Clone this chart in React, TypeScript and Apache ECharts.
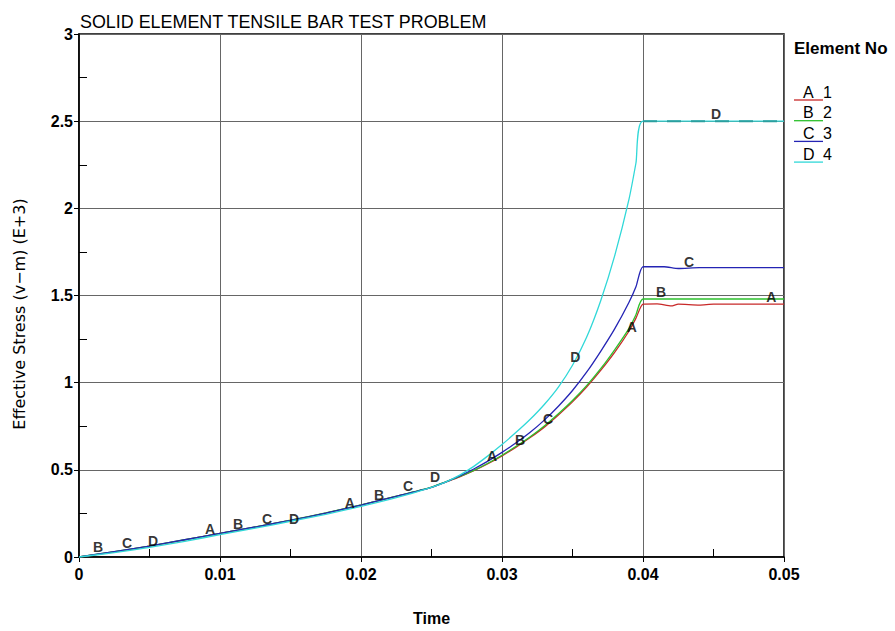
import React, { useEffect, useRef } from "react";
import * as echarts from "echarts";

const title = "SOLID ELEMENT TENSILE BAR TEST PROBLEM";
const xName = "Time";
const yName = "Effective Stress (v\u2212m) (E+3)";
const legendTitle = "Element No";
const seriesLetters = ["A", "B", "C", "D"];
const seriesNumbers = ["1", "2", "3", "4"];
const seriesColors = ["#c82828", "#2cc02c", "#2424b4", "#30d8d8"];

const dataA: number[][] = [
  [0, 0], [0.0025, 0.03], [0.005, 0.062], [0.0075, 0.098], [0.01, 0.135], [0.0125, 0.172],
  [0.015, 0.21], [0.0175, 0.252], [0.02, 0.298], [0.0225, 0.348], [0.025, 0.4], [0.026, 0.43],
  [0.027, 0.46], [0.028, 0.495], [0.029, 0.535], [0.03, 0.58], [0.031, 0.63], [0.032, 0.685],
  [0.033, 0.745], [0.034, 0.815], [0.035, 0.89], [0.036, 0.975], [0.037, 1.07], [0.038, 1.175],
  [0.039, 1.295], [0.0395, 1.37], [0.04, 1.45], [0.041, 1.452], [0.042, 1.44], [0.0425, 1.45],
  [0.044, 1.445], [0.045, 1.45], [0.047, 1.45], [0.05, 1.45],
];
const dataB: number[][] = [
  [0, 0], [0.0025, 0.031], [0.005, 0.063], [0.0075, 0.099], [0.01, 0.136], [0.0125, 0.173],
  [0.015, 0.211], [0.0175, 0.253], [0.02, 0.299], [0.0225, 0.349], [0.025, 0.401], [0.026, 0.431],
  [0.027, 0.462], [0.028, 0.497], [0.029, 0.538], [0.03, 0.584], [0.031, 0.635], [0.032, 0.69],
  [0.033, 0.752], [0.034, 0.822], [0.035, 0.898], [0.036, 0.983], [0.037, 1.08], [0.038, 1.19],
  [0.039, 1.31], [0.0395, 1.39], [0.04, 1.48], [0.05, 1.48],
];
const dataC: number[][] = [
  [0, 0], [0.0025, 0.031], [0.005, 0.063], [0.0075, 0.099], [0.01, 0.136], [0.0125, 0.172],
  [0.015, 0.21], [0.0175, 0.252], [0.02, 0.298], [0.0225, 0.348], [0.025, 0.4], [0.026, 0.43],
  [0.027, 0.465], [0.028, 0.505], [0.029, 0.55], [0.03, 0.6], [0.031, 0.655], [0.032, 0.715],
  [0.033, 0.785], [0.034, 0.865], [0.035, 0.955], [0.036, 1.06], [0.037, 1.18], [0.038, 1.31],
  [0.039, 1.46], [0.0395, 1.55], [0.04, 1.665], [0.0415, 1.665], [0.0425, 1.655], [0.044, 1.66],
  [0.05, 1.66],
];
const dataD: number[][] = [
  [0, 0], [0.0025, 0.025], [0.005, 0.055], [0.0075, 0.09], [0.01, 0.128], [0.0125, 0.165],
  [0.015, 0.205], [0.0175, 0.245], [0.02, 0.29], [0.0225, 0.34], [0.025, 0.4], [0.026, 0.43],
  [0.027, 0.47], [0.028, 0.52], [0.029, 0.58], [0.03, 0.645], [0.031, 0.715], [0.032, 0.79],
  [0.033, 0.875], [0.034, 0.975], [0.035, 1.1], [0.036, 1.26], [0.037, 1.47], [0.038, 1.73],
  [0.039, 2.05], [0.0395, 2.26], [0.04, 2.5], [0.05, 2.5],
];
const dataDFlat: number[][] = [[0.04, 2.5], [0.05, 2.5]];

const labelsA: number[][] = [[0.00929, 0.16], [0.0192, 0.31], [0.0293, 0.58], [0.0392, 1.32], [0.0491, 1.49]];
const labelsB: number[][] = [[0.00135, 0.057], [0.01128, 0.19], [0.02128, 0.354], [0.03128, 0.67], [0.04128, 1.52]];
const labelsC: number[][] = [[0.0034, 0.08], [0.01333, 0.217], [0.02333, 0.406], [0.03326, 0.79], [0.04326, 1.69]];
const labelsD: number[][] = [[0.00525, 0.09], [0.01525, 0.22], [0.02525, 0.457], [0.0352, 1.15], [0.04518, 2.54]];

const seriesData = [dataA, dataB, dataC, dataD];
const labelData = [labelsA, labelsB, labelsC, labelsD];

const FONT = "Liberation Sans, Arial, sans-serif";

export default function App() {
  const ref = useRef<HTMLDivElement>(null);
  useEffect(() => {
    if (!ref.current) return;
    const chart = echarts.init(ref.current, undefined, { renderer: "svg" });
    const series: any[] = [];
    seriesData.forEach((d, i) => {
      series.push({
        name: seriesLetters[i] + " " + seriesNumbers[i],
        type: "line",
        data: d,
        showSymbol: false,
        symbol: "none",
        smooth: 0.2,
        lineStyle: { color: seriesColors[i], width: 1.3 },
        z: 3 + i,
      });
    });
    series.push({
      name: "D flat",
      type: "line",
      data: dataDFlat,
      symbol: "none",
      lineStyle: { color: "#2a9f9f", width: 2, type: [14, 10] },
      z: 8,
    });
    labelData.forEach((d, i) => {
      series.push({
        name: "lbl" + seriesLetters[i],
        type: "scatter",
        data: d,
        symbolSize: 0,
        z: 10,
        label: {
          show: true,
          position: "inside",
          formatter: seriesLetters[i],
          color: "#000",
          fontSize: 14,
          fontWeight: "bold",
          fontFamily: FONT,
        },
      });
    });

    const graphics: any[] = [
      {
        type: "text",
        left: 794,
        top: 40,
        style: { text: legendTitle, fontSize: 17, fontWeight: "bold", fontFamily: FONT, fill: "#000" },
      },
      {
        type: "text",
        x: 19,
        y: 314,
        rotation: Math.PI / 2,
        style: {
          text: yName,
          fontSize: 16,
          fontFamily: "DejaVu Sans, sans-serif",
          fill: "#000",
          align: "center",
          verticalAlign: "middle",
        },
      },
    ];
    seriesLetters.forEach((l, i) => {
      const y = 84 + i * 20.7;
      graphics.push({
        type: "text",
        left: 803,
        top: y,
        style: { text: l, fontSize: 16, fontFamily: FONT, fill: "#000" },
      });
      graphics.push({
        type: "text",
        left: 823,
        top: y,
        style: { text: seriesNumbers[i], fontSize: 16, fontFamily: FONT, fill: "#000" },
      });
      graphics.push({
        type: "line",
        shape: { x1: 794, y1: y + 16, x2: 823, y2: y + 16 },
        style: { stroke: seriesColors[i], lineWidth: 1.3 },
      });
    });

    chart.setOption({
      animation: false,
      backgroundColor: "#fff",
      title: {
        text: title,
        left: 75,
        top: 8,
        textStyle: { fontSize: 17.9, fontWeight: "normal", fontFamily: FONT, color: "#000" },
      },
      grid: {
        left: 79,
        right: 111,
        top: 34,
        bottom: 72,
        show: true,
        borderColor: "#000",
        borderWidth: 1.5,
        backgroundColor: "transparent",
      },
      xAxis: {
        type: "value",
        min: 0,
        max: 0.05,
        interval: 0.01,
        name: xName,
        nameLocation: "middle",
        nameGap: 53,
        nameTextStyle: { fontSize: 16, fontWeight: "bold", fontFamily: FONT, color: "#000" },
        axisLine: { show: true, lineStyle: { color: "#000", width: 1.5 } },
        axisTick: { show: true, length: 5, lineStyle: { color: "#000" } },
        minorTick: { show: true, splitNumber: 2, length: -8, lineStyle: { color: "#000" } },
        axisLabel: {
          fontSize: 16,
          fontWeight: "bold",
          fontFamily: FONT,
          color: "#000",
          margin: 9,
          formatter: (v: number) => (v === 0 ? "0" : String(Number(v.toFixed(2)))),
        },
        splitLine: { show: true, lineStyle: { color: "#666", width: 1 } },
      },
      yAxis: {
        type: "value",
        min: 0,
        max: 3,
        interval: 0.5,
        axisLine: { show: true, lineStyle: { color: "#000", width: 1.5 } },
        axisTick: { show: true, length: 5, lineStyle: { color: "#000" } },
        minorTick: { show: true, splitNumber: 2, length: -8, lineStyle: { color: "#000" } },
        axisLabel: {
          fontSize: 16,
          fontWeight: "bold",
          fontFamily: FONT,
          color: "#000",
          margin: 6,
        },
        splitLine: { show: true, lineStyle: { color: "#666", width: 1 } },
      },
      graphic: graphics,
      series,
    });
    return () => chart.dispose();
  }, []);
  return <div ref={ref} style={{ width: 895, height: 631, position: "absolute", left: 0, top: 0 }} />;
}
